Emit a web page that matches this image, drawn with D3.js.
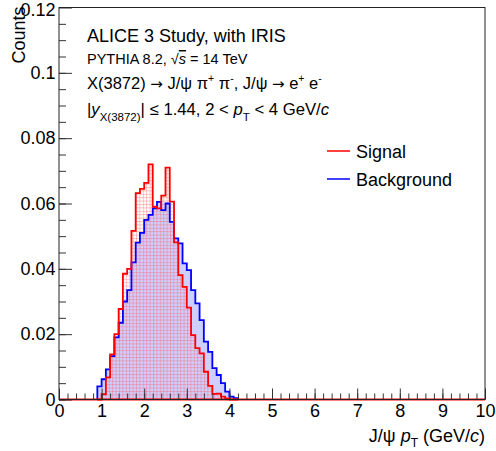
<!DOCTYPE html>
<html>
<head>
<meta charset="utf-8">
<script src="https://cdn.jsdelivr.net/npm/d3@7"></script>
<style>
  body { margin: 0; background: #fff; }
  svg text { font-family: "Liberation Sans", Arial, sans-serif; fill: #000; }
</style>
</head>
<body>
<div id="chart"></div>
<script>
// bin edges in J/psi pT (GeV/c), 0.1 GeV wide
const ptEdges = [0.9, 1.0, 1.1, 1.2, 1.3, 1.4, 1.5, 1.6, 1.7, 1.8, 1.9, 2.0, 2.1, 2.2, 2.3, 2.4, 2.5,
    2.6, 2.7, 2.8, 2.9, 3.0, 3.1, 3.2, 3.3, 3.4, 3.5, 3.6, 3.7, 3.8, 3.9, 4.0, 4.1, 4.2];

const signal = [0, 0.0016, 0.0068, 0.0138, 0.0200, 0.0277, 0.0385, 0.0400, 0.0516, 0.0632, 0.0645,
    0.0663, 0.0720, 0.0590, 0.0585, 0.0624, 0.0710, 0.0606, 0.0481, 0.0381, 0.0345, 0.0281,
    0.0197, 0.0157, 0.0141, 0.0085, 0.0042, 0.0017, 0.0018, 0.0009, 0.0003, 0, 0];

const background = [0.0040, 0.0062, 0.0092, 0.0133, 0.0190, 0.0235, 0.0300, 0.0335, 0.0420, 0.0480,
    0.0510, 0.0550, 0.0565, 0.0585, 0.0605, 0.0580, 0.0600, 0.0544, 0.0493, 0.0478, 0.0417,
    0.0396, 0.0335, 0.0294, 0.0243, 0.0177, 0.0146, 0.0096, 0.0075, 0.0050, 0.0024, 0.0009, 0.0004];

const xTicks = [0, 1, 2, 3, 4, 5, 6, 7, 8, 9, 10];
const yTicks = [0, 0.02, 0.04, 0.06, 0.08, 0.1, 0.12];
const yTickLabels = ['0', '0.02', '0.04', '0.06', '0.08', '0.1', '0.12'];

const width = 496, height = 451;
const margin = { left: 59, right: 11, top: 7.5, bottom: 51.5 };

const svg = d3.select('#chart')
    .append('svg')
    .attr('width', width)
    .attr('height', height);

const x = d3.scaleLinear().domain([0, 10]).range([margin.left, width - margin.right]);
const y = d3.scaleLinear().domain([0, 0.12]).range([height - margin.bottom, margin.top]);

// fill pattern for the signal (dotted grid)
const defs = svg.append('defs');
const pat = defs.append('pattern')
    .attr('id', 'redgrid')
    .attr('patternUnits', 'userSpaceOnUse')
    .attr('width', 3.4).attr('height', 3.4);
pat.append('rect').attr('width', 3.4).attr('height', 1).attr('fill', 'rgba(255,70,70,0.32)');
pat.append('rect').attr('width', 1).attr('height', 3.4).attr('fill', 'rgba(255,70,70,0.32)');

function stepPoints(vals) {
    const pts = [[ptEdges[0], 0]];
    vals.forEach((v, i) => pts.push([ptEdges[i], v]));
    pts.push([ptEdges[ptEdges.length - 1], 0]);
    return pts;
}

const area = d3.area()
    .curve(d3.curveStepAfter)
    .x(d => x(d[0]))
    .y0(y(0))
    .y1(d => y(d[1]));

const line = d3.line()
    .curve(d3.curveStepAfter)
    .x(d => x(d[0]))
    .y(d => y(d[1]));

const bgPts = stepPoints(background);
const sigPts = stepPoints(signal);

svg.append('path').attr('d', area(bgPts)).attr('fill', 'rgba(70,70,255,0.26)');
svg.append('path').attr('d', area(sigPts)).attr('fill', 'url(#redgrid)');

svg.append('path').attr('d', line(bgPts))
    .attr('fill', 'none').attr('stroke', '#0000ff').attr('stroke-width', 1.8);
svg.append('path').attr('d', line(sigPts))
    .attr('fill', 'none').attr('stroke', '#ff0000').attr('stroke-width', 1.8);

// empty bins along the bottom
svg.append('line')
    .attr('x1', x(0)).attr('x2', x(10))
    .attr('y1', y(0)).attr('y2', y(0))
    .attr('stroke', '#ff0000').attr('stroke-width', 1.8);

// axes (ticks pointing inwards, ROOT style)
const xMinor = d3.range(0, 50).map(i => i * 0.2);
svg.append('g')
    .attr('transform', `translate(0,${y(0)})`)
    .call(d3.axisBottom(x).tickValues(xMinor).tickSize(-6).tickFormat(''))
    .call(g => g.select('.domain').remove())
    .call(g => g.selectAll('line').attr('stroke', '#333'));

svg.append('g')
    .attr('transform', `translate(0,${y(0)})`)
    .call(d3.axisBottom(x).tickValues(xTicks).tickSize(-11).tickPadding(5).tickFormat(d3.format('d')))
    .call(g => g.select('.domain').remove())
    .call(g => g.selectAll('line').attr('stroke', '#333'))
    .call(g => g.selectAll('text').attr('font-size', 18).style('font-family', '"Liberation Sans", Arial, sans-serif'));

const yMinor = d3.range(0, 24).map(i => i * 0.005);
svg.append('g')
    .attr('transform', `translate(${x(0)},0)`)
    .call(d3.axisLeft(y).tickValues(yMinor).tickSize(-7).tickFormat(''))
    .call(g => g.select('.domain').remove())
    .call(g => g.selectAll('line').attr('stroke', '#333'));

svg.append('g')
    .attr('transform', `translate(${x(0)},0)`)
    .call(d3.axisLeft(y).tickValues(yTicks).tickSize(-13).tickPadding(3.5)
        .tickFormat((d, i) => yTickLabels[i]))
    .call(g => g.select('.domain').remove())
    .call(g => g.selectAll('line').attr('stroke', '#333'))
    .call(g => g.selectAll('text').attr('font-size', 18).style('font-family', '"Liberation Sans", Arial, sans-serif'))
    .call(g => g.selectAll('text').filter(d => d === 0.12).attr('dy', '0.45em'));

// frame
svg.append('rect')
    .attr('x', x(0)).attr('y', y(0.12))
    .attr('width', x(10) - x(0)).attr('height', y(0) - y(0.12))
    .attr('fill', 'none').attr('stroke', '#222').attr('stroke-width', 1);

// axis titles
const xt = svg.append('text')
    .attr('x', x(10)).attr('y', 442)
    .attr('text-anchor', 'end').attr('font-size', 18);
xt.append('tspan').text('J/ψ  ');
xt.append('tspan').attr('font-style', 'italic').text('p');
xt.append('tspan').attr('font-size', 12).attr('dy', 5).text('T');
xt.append('tspan').attr('dy', -5).text(' (GeV/');
xt.append('tspan').attr('font-style', 'italic').text('c');
xt.append('tspan').text(')');

svg.append('text')
    .attr('transform', `translate(25,${y(0.12) - 1}) rotate(-90)`)
    .attr('text-anchor', 'end').attr('font-size', 18)
    .text('Counts');

// labels inside the pad
const tx = 87;
svg.append('text').attr('x', tx).attr('y', 42).attr('font-size', 18)
    .text('ALICE 3 Study, with IRIS');

const l2 = svg.append('text').attr('x', tx).attr('y', 64).attr('font-size', 14.5);
l2.append('tspan').text('PYTHIA 8.2, √');
l2.append('tspan').attr('font-style', 'italic').attr('text-decoration', 'overline').text('s');
l2.append('tspan').text(' = 14 TeV');

const l3 = svg.append('text').attr('x', tx).attr('y', 89).attr('font-size', 16.5);
l3.append('tspan').text('X(3872) ');
l3.append('tspan').style('font-family', '"DejaVu Sans"').attr('font-size', 15).text('→');
l3.append('tspan').text(' J/ψ π');
l3.append('tspan').attr('font-size', 10.5).attr('dy', -7).text('+');
l3.append('tspan').attr('dy', 7).text(' π');
l3.append('tspan').attr('font-size', 10.5).attr('dy', -7).text('-');
l3.append('tspan').attr('dy', 7).text(', J/ψ ');
l3.append('tspan').style('font-family', '"DejaVu Sans"').attr('font-size', 15).text('→');
l3.append('tspan').text(' e');
l3.append('tspan').attr('font-size', 10.5).attr('dy', -7).text('+');
l3.append('tspan').attr('dy', 7).text(' e');
l3.append('tspan').attr('font-size', 10.5).attr('dy', -7).text('-');

const l4 = svg.append('text').attr('x', tx).attr('y', 115).attr('font-size', 16.7);
l4.append('tspan').text('|');
l4.append('tspan').attr('font-style', 'italic').text('y');
l4.append('tspan').attr('font-size', 11.5).attr('dy', 6).text('X(3872)');
l4.append('tspan').attr('dy', -6).text('| ≤ 1.44, 2 < ');
l4.append('tspan').attr('font-style', 'italic').text('p');
l4.append('tspan').attr('font-size', 11.5).attr('dy', 6).text('T');
l4.append('tspan').attr('dy', -6).text(' < 4 GeV/');
l4.append('tspan').attr('font-style', 'italic').text('c');

// legend
const legend = [
    { name: 'Signal', color: '#ff0000', y: 151 },
    { name: 'Background', color: '#0000ff', y: 179 }
];
legend.forEach(d => {
    svg.append('line')
        .attr('x1', 327).attr('x2', 350)
        .attr('y1', d.y).attr('y2', d.y)
        .attr('stroke', d.color).attr('stroke-width', 1.5);
    svg.append('text')
        .attr('x', 356).attr('y', d.y + 6.5)
        .attr('font-size', 18)
        .text(d.name);
});
</script>
</body>
</html>
